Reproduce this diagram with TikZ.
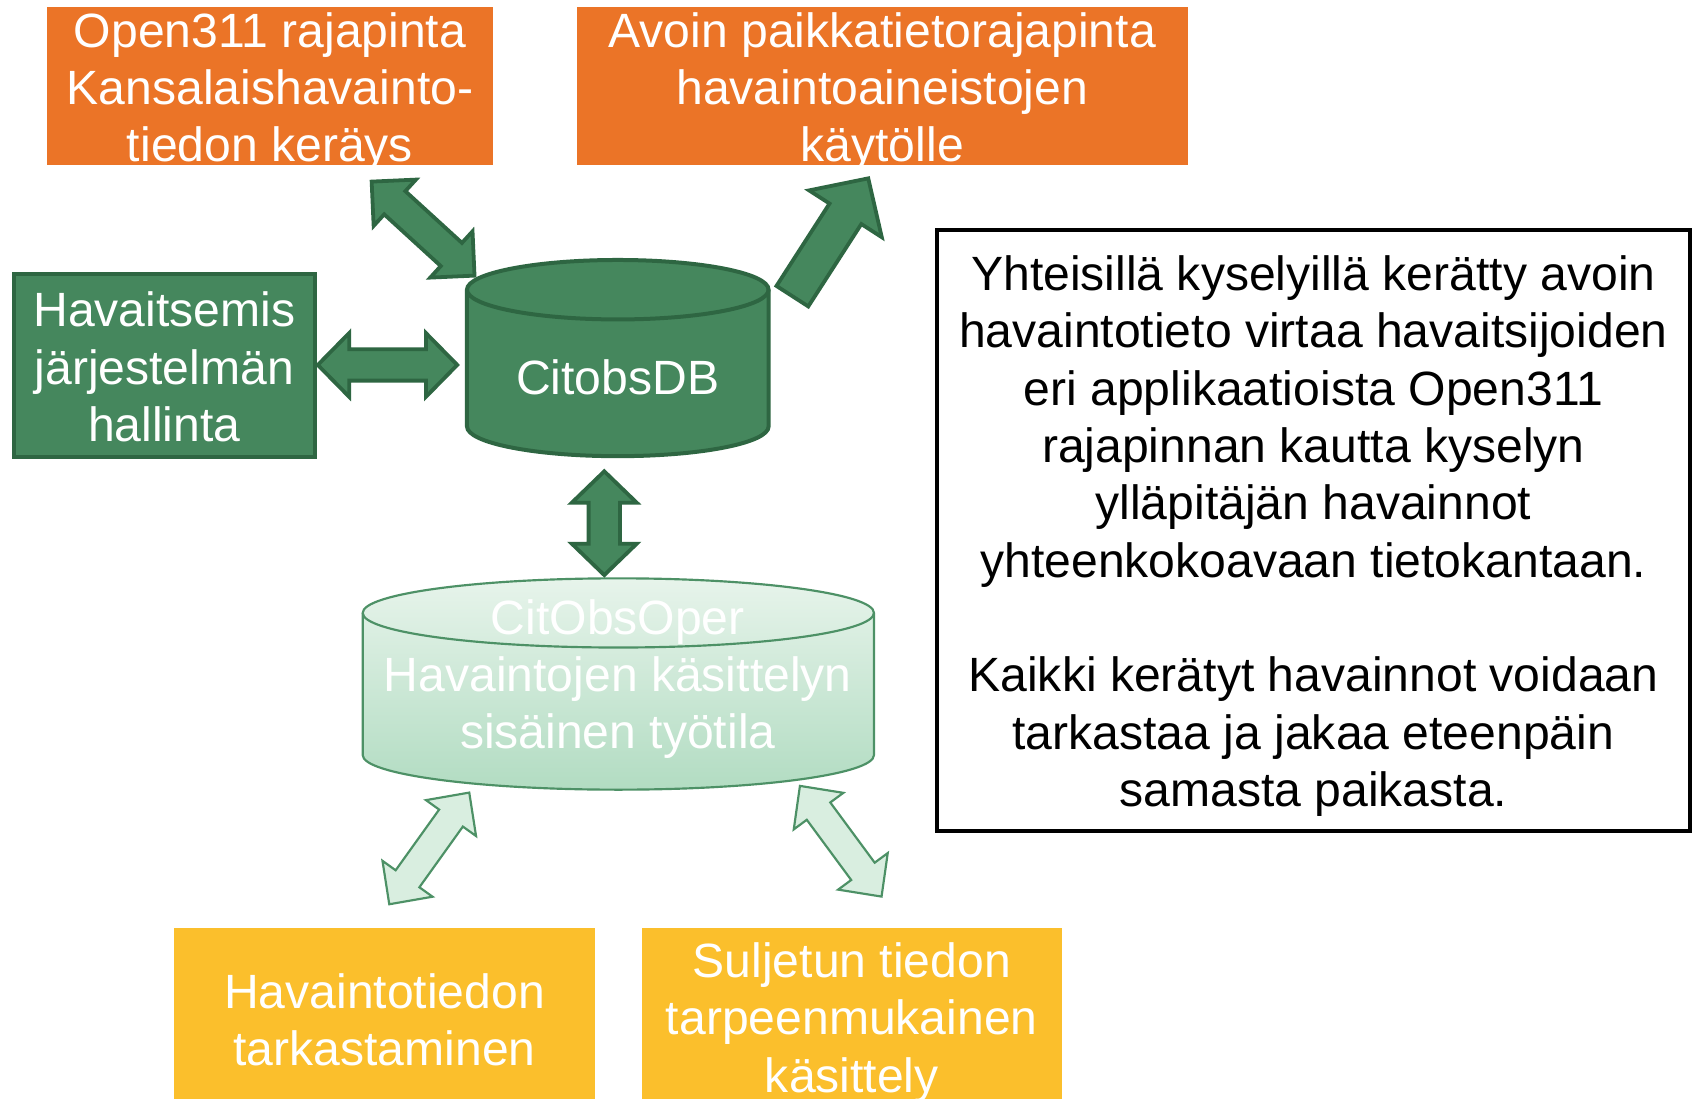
\documentclass[tikz,border=0pt]{standalone}
\usepackage{fontspec}
\setmainfont{Liberation Sans}
\usetikzlibrary{calc}
\definecolor{orangeC}{HTML}{EB7427}
\definecolor{goldC}{HTML}{FBBF2C}
\definecolor{greenC}{HTML}{45875D}
\definecolor{greenD}{HTML}{2E6642}
\definecolor{lightS}{HTML}{4D9166}
\definecolor{lightF}{HTML}{D9EEE0}
\definecolor{cylTop}{HTML}{E7F4EB}
\definecolor{cylBot}{HTML}{B2DCC2}
\newcommand\bigtxt{\fontsize{44.5}{53}\selectfont}
% struts: top one 46pt above baseline, end one 12pt below
\newcommand\lsTop{\rule[-12pt]{0pt}{58pt}}
\newcommand\lsEnd{\rule[-12pt]{0pt}{53pt}}
% double block arrow: style, from, to, shaft half width, head half width, head length
\newcommand{\dblblock}[6]{%
  \draw[#1] let \p1=(#2), \p2=(#3),
      \n1={atan2(\y2-\y1,\x2-\x1)}, \n2={veclen(\x2-\x1,\y2-\y1)} in
    [shift={(\p1)}, rotate=\n1]
    (0pt,0pt) -- (#6pt,#5pt) -- (#6pt,#4pt) -- ({\n2-#6pt},#4pt) -- ({\n2-#6pt},#5pt)
    -- ({\n2+0pt},0pt) -- ({\n2-#6pt},-#5pt) -- ({\n2-#6pt},-#4pt) -- (#6pt,-#4pt)
    -- (#6pt,-#5pt) -- cycle;}
% single block arrow: style, tail, tip, shaft half width, head half width, head length
\newcommand{\sglblock}[6]{%
  \draw[#1] let \p1=(#2), \p2=(#3),
      \n1={atan2(\y2-\y1,\x2-\x1)}, \n2={veclen(\x2-\x1,\y2-\y1)} in
    [shift={(\p1)}, rotate=\n1]
    (0pt,#4pt) -- ({\n2-#6pt},#4pt) -- ({\n2-#6pt},#5pt) -- ({\n2+0pt},0pt)
    -- ({\n2-#6pt},-#5pt) -- ({\n2-#6pt},-#4pt) -- (0pt,-#4pt) -- cycle;}

\begin{document}
\begin{tikzpicture}[x=1pt,y=-1pt,
  txt/.style={font=\bigtxt, align=center, inner xsep=0pt, inner ysep=-14pt},
  orangebox/.style={txt, fill=orangeC, text=white},
  goldbox/.style={txt, fill=goldC, text=white},
  greenbox/.style={txt, fill=greenC, draw=greenD, line width=3.7pt, text=white},
  notebox/.style={txt, draw=black, line width=3.7pt, text=black},
  cyltext/.style={txt, text=white},
  darkarrow/.style={fill=greenC, draw=greenD, line width=3.5pt, line join=miter},
  lightarrow/.style={fill=lightF, draw=lightS, line width=2pt},
  dbbody/.style={fill=greenC, draw=greenD, line width=3.7pt},
  dbedge/.style={draw=greenD, line width=3.7pt},
  opbody/.style={top color=cylTop, bottom color=cylBot, draw=lightS, line width=2pt},
  opedge/.style={draw=lightS, line width=2pt}]

\useasboundingbox (0,0) rectangle (1568,1016);
\clip (0,0) rectangle (1568,1016);
\fill[white] (0,0) rectangle (1568,1016);

% boxes
\node[orangebox, minimum width=412.5pt, minimum height=146pt] (open311) at (249.8,79.5)
  {\lsTop Open311 rajapinta\\Kansalaishavainto-\\tiedon keräys\lsEnd};
\node[orangebox, minimum width=565.6pt, minimum height=146pt] (avoin) at (816.2,79.5)
  {\lsTop Avoin paikkatietorajapinta\\havaintoaineistojen\\käytölle\lsEnd};
\node[greenbox, minimum width=278.3pt, minimum height=168.8pt] (hallinta) at (152,338.3)
  {\lsTop Havaitsemis\\järjestelmän\\hallinta\lsEnd};
\node[goldbox, minimum width=389.4pt, minimum height=167pt] (tarkast) at (355.7,942.2)
  {\lsTop Havaintotiedon\\tarkastaminen\lsEnd};
\node[goldbox, minimum width=389.1pt, minimum height=163.4pt] (suljettu) at (788,940.4)
  {\lsTop Suljetun tiedon\\tarpeenmukainen\\käsittely\lsEnd};
\node[notebox, minimum width=696.3pt, minimum height=555.9pt] (note) at (1215,490.4)
  {\lsTop Yhteisillä kyselyillä kerätty avoin\\havaintotieto virtaa havaitsijoiden\\eri applikaatioista Open311\\rajapinnan kautta kyselyn\\ylläpitäjän havainnot\\yhteenkokoavaan tietokantaan.\\ ~ \\Kaikki kerätyt havainnot voidaan\\tarkastaa ja jakaa eteenpäin\\samasta paikasta.\lsEnd};

% CitobsDB cylinder
\draw[dbbody] (432,268) -- (432,394.5)
  arc[start angle=180, end angle=360, x radius=139.5pt, y radius=27.5pt]
  -- (711,268)
  arc[start angle=0, end angle=180, x radius=139.5pt, y radius=27.5pt] -- cycle;
\draw[dbedge] (432,268)
  arc[start angle=180, end angle=360, x radius=139.5pt, y radius=27.5pt];
\node[cyltext] (db) at (571.5,348.4) {\lsTop CitobsDB\lsEnd};

% CitObsOper cylinder
\draw[opbody] (335.5,567) -- (335.5,698.5)
  arc[start angle=180, end angle=360, x radius=236.5pt, y radius=32pt]
  -- (808.5,567)
  arc[start angle=0, end angle=180, x radius=236.5pt, y radius=32pt] -- cycle;
\draw[opedge] (335.5,567)
  arc[start angle=180, end angle=360, x radius=236.5pt, y radius=32pt];
\node[cyltext] (oper) at (571.5,622.8)
  {\lsTop CitObsOper\\Havaintojen käsittelyn\\sisäinen työtila\lsEnd};

% arrow end points
\coordinate (tlA) at (343.8,168);
\coordinate (tlB) at (439,255);
\coordinate (hA) at (294,337.6);
\coordinate (hB) at (423,337.6);
\coordinate (vA) at (559,436);
\coordinate (vB) at (559,532);
\coordinate (trA) at (733,274);
\coordinate (trB) at (803.2,165);
\coordinate (blA) at (434.1,733.2);
\coordinate (blB) at (360.1,836.5);
\coordinate (brA) at (740,727);
\coordinate (brB) at (815.5,829.4);

\dblblock{darkarrow}{tlA}{tlB}{14.5}{29}{29}
\dblblock{darkarrow}{hA}{hB}{14.5}{29.5}{29}
\dblblock{darkarrow}{vA}{vB}{14.5}{30}{29}
\sglblock{darkarrow}{trA}{trB}{17.5}{40}{39}
\dblblock{lightarrow}{blA}{blB}{13.5}{28.5}{29}
\dblblock{lightarrow}{brA}{brB}{13.5}{28.5}{29}
\end{tikzpicture}
\end{document}
